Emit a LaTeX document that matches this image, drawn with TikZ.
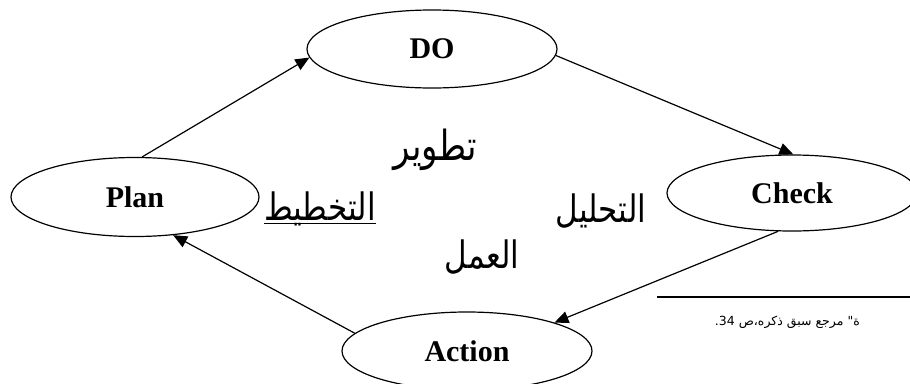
\documentclass[tikz,border=0pt]{standalone}
\usepackage{fontspec}
\usepackage{graphicx}
\setmainfont{Liberation Serif}
\newfontfamily\arabicfont[Script=Arabic]{DejaVu Sans}
\TeXXeTstate=1
\usetikzlibrary{shapes.geometric,arrows.meta}

% tall Arabic label: wider letters scaled up vertically
\newcommand{\tallar}[1]{\scalebox{1}[1.22]{\beginR #1\endR}}

\begin{document}
\begin{tikzpicture}[x=1pt,y=-1pt,
  phase/.style={draw, ellipse, line width=1.2pt, minimum width=250pt,
    minimum height=78pt, inner sep=0pt,
    font=\fontsize{30}{32}\selectfont\bfseries},
  flow/.style={line width=1.2pt, -{Triangle[length=14pt,width=12pt]}},
  arlabel/.style={font=\arabicfont\fontsize{31}{33}\selectfont, inner sep=0pt},
  note/.style={font=\arabicfont\fontsize{12.5}{14}\selectfont, inner sep=0pt}]
\useasboundingbox (0,0) rectangle (910,383);

% the four stages of the cycle
\node[phase] (do) at (432,49) {DO};
\node[phase, minimum width=248pt, minimum height=79pt] (plan) at (135,197) {Plan};
\node[phase, minimum height=76pt] (check) at (792,193) {Check};
\node[phase] (action) at (467,351) {Action};

% arrows between the stages
\draw[flow] (plan.80) -- (do.184);
\draw[flow] (do.-3) -- (check.88);
\draw[flow] (check.-110) -- (action.18);
\draw[flow] (action.171) -- (plan.-45);

% Arabic labels inside the cycle
\node[arlabel, font=\arabicfont\fontsize{34}{36}\selectfont] (dev) at (435,150) {\tallar{تطوير}};
\node[arlabel] (planning) at (320,209) {\tallar{التخطيط}};
\draw[line width=1.2pt] ([yshift=-3pt]planning.base west) -- ([yshift=-3pt]planning.base east);
\node[arlabel] (analysis) at (601,211) {\tallar{التحليل}};
\node[arlabel] (work) at (482,257) {\tallar{العمل}};

% footnote rule and reference
\draw[line width=1.5pt] (657,297) -- (910,297);
\node[note, anchor=east] (src) at (860,322) {\beginR ة" مرجع سبق ذكره،ص \beginL34\endL.\endR};
\end{tikzpicture}
\end{document}
